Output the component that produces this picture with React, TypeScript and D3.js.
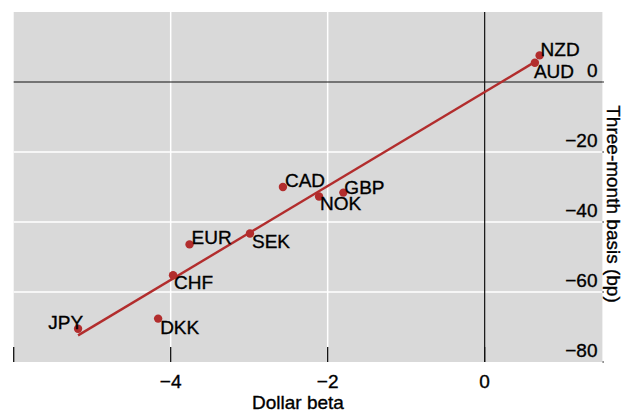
import React from "react";
import * as d3 from "d3";

const currencies = ["NZD", "AUD", "CAD", "GBP", "NOK", "SEK", "EUR", "CHF", "JPY", "DKK"];
const dollarBeta = [0.7, 0.64, -2.57, -1.8, -2.11, -2.99, -3.76, -3.97, -5.18, -4.16];
const basis = [7.6, 5.5, -30.0, -31.6, -32.7, -43.3, -46.4, -55.2, -70.5, -67.6];

// fitted line, end points
const fitBeta = [-5.18, 0.63];
const fitBasis = [-72.4, 5.6];

const xTicks = [-4, -2, 0];
const yTicks = [0, -20, -40, -60, -80];

// label placement around each dot: [dx, dy, anchor]
const labelPlace: Record<string, [number, number, string]> = {
  NZD: [1, 1, "start"],
  AUD: [-1, 15, "start"],
  CAD: [2, 0, "start"],
  GBP: [1, 1, "start"],
  NOK: [1, 14, "start"],
  SEK: [2, 14, "start"],
  EUR: [2, 0, "start"],
  CHF: [1, 14, "start"],
  JPY: [5, 0, "end"],
  DKK: [2, 15, "start"],
};

const W = 625;
const H = 412;
const font = "'Liberation Sans', Arial, Helvetica, sans-serif";
const red = "#b22d2d";

// text looks a touch heavier than plain regular in the reference
const ink = { fill: "#000", stroke: "#000", strokeWidth: 0.35, fontSize: 19 };

export default function App() {
  const x = d3.scaleLinear().domain([-6, 1.5]).range([13.7, 602.4]);
  const y = d3.scaleLinear().domain([-80, 20]).range([362, 12]);
  const [x0, x1] = x.range();
  const [yb, yt] = y.range();

  const line = d3
    .line<number>()
    .x((_, i) => x(fitBeta[i]))
    .y((d) => y(d));

  return (
    <svg
      width={W}
      height={H}
      style={{ position: "fixed", left: 0, top: 0, background: "#fff" }}
      fontFamily={font}
    >
      <rect x={x0} y={yt} width={x1 - x0} height={yb - yt} fill="#d9d9d9" />

      {yTicks
        .filter((t) => t !== 0 && t !== -80)
        .map((t) => (
          <line key={t} x1={x0} x2={x1} y1={y(t)} y2={y(t)} stroke="#fff" strokeWidth={1.5} />
        ))}
      {xTicks
        .filter((t) => t !== 0)
        .map((t) => (
          <line key={t} x1={x(t)} x2={x(t)} y1={yt} y2={yb} stroke="#fff" strokeWidth={1.5} />
        ))}

      <line x1={x0} x2={x1} y1={y(0)} y2={y(0)} stroke="#111" strokeWidth={1.2} />
      <line x1={x(0)} x2={x(0)} y1={yt} y2={yb} stroke="#111" strokeWidth={1.2} />

      {[-6, ...xTicks].map((t) => (
        <line key={t} x1={x(t)} x2={x(t)} y1={yb - 15} y2={yb} stroke="#111" strokeWidth={1.3} />
      ))}
      {yTicks.map((t) => (
        <line key={t} x1={x1} x2={x1 + 1.5} y1={y(t)} y2={y(t)} stroke="#111" strokeWidth={1} />
      ))}

      <path d={line(fitBasis) ?? ""} fill="none" stroke={red} strokeWidth={2.4} />

      {currencies.map((c, i) => (
        <circle key={c} cx={x(dollarBeta[i])} cy={y(basis[i])} r={4.2} fill={red} />
      ))}
      {currencies.map((c, i) => {
        const [dx, dy, anchor] = labelPlace[c];
        return (
          <text
            key={c}
            x={x(dollarBeta[i]) + dx}
            y={y(basis[i]) + dy}
            textAnchor={anchor}
            {...ink}
          >
            {c}
          </text>
        );
      })}

      {yTicks.map((t) => (
        <text key={t} x={597.5} y={y(t) - 5.5} textAnchor="end" {...ink}>
          {t < 0 ? `\u2212${Math.abs(t)}` : t}
        </text>
      ))}
      {xTicks.map((t) => (
        <text key={t} x={x(t)} y={387.5} textAnchor="middle" {...ink}>
          {t < 0 ? `\u2212${Math.abs(t)}` : t}
        </text>
      ))}

      <text x={298} y={408.5} textAnchor="middle" {...ink}>
        Dollar beta
      </text>
      <text transform="translate(607,204) rotate(90)" textAnchor="middle" {...ink}>
        Three-month basis (bp)
      </text>
    </svg>
  );
}
